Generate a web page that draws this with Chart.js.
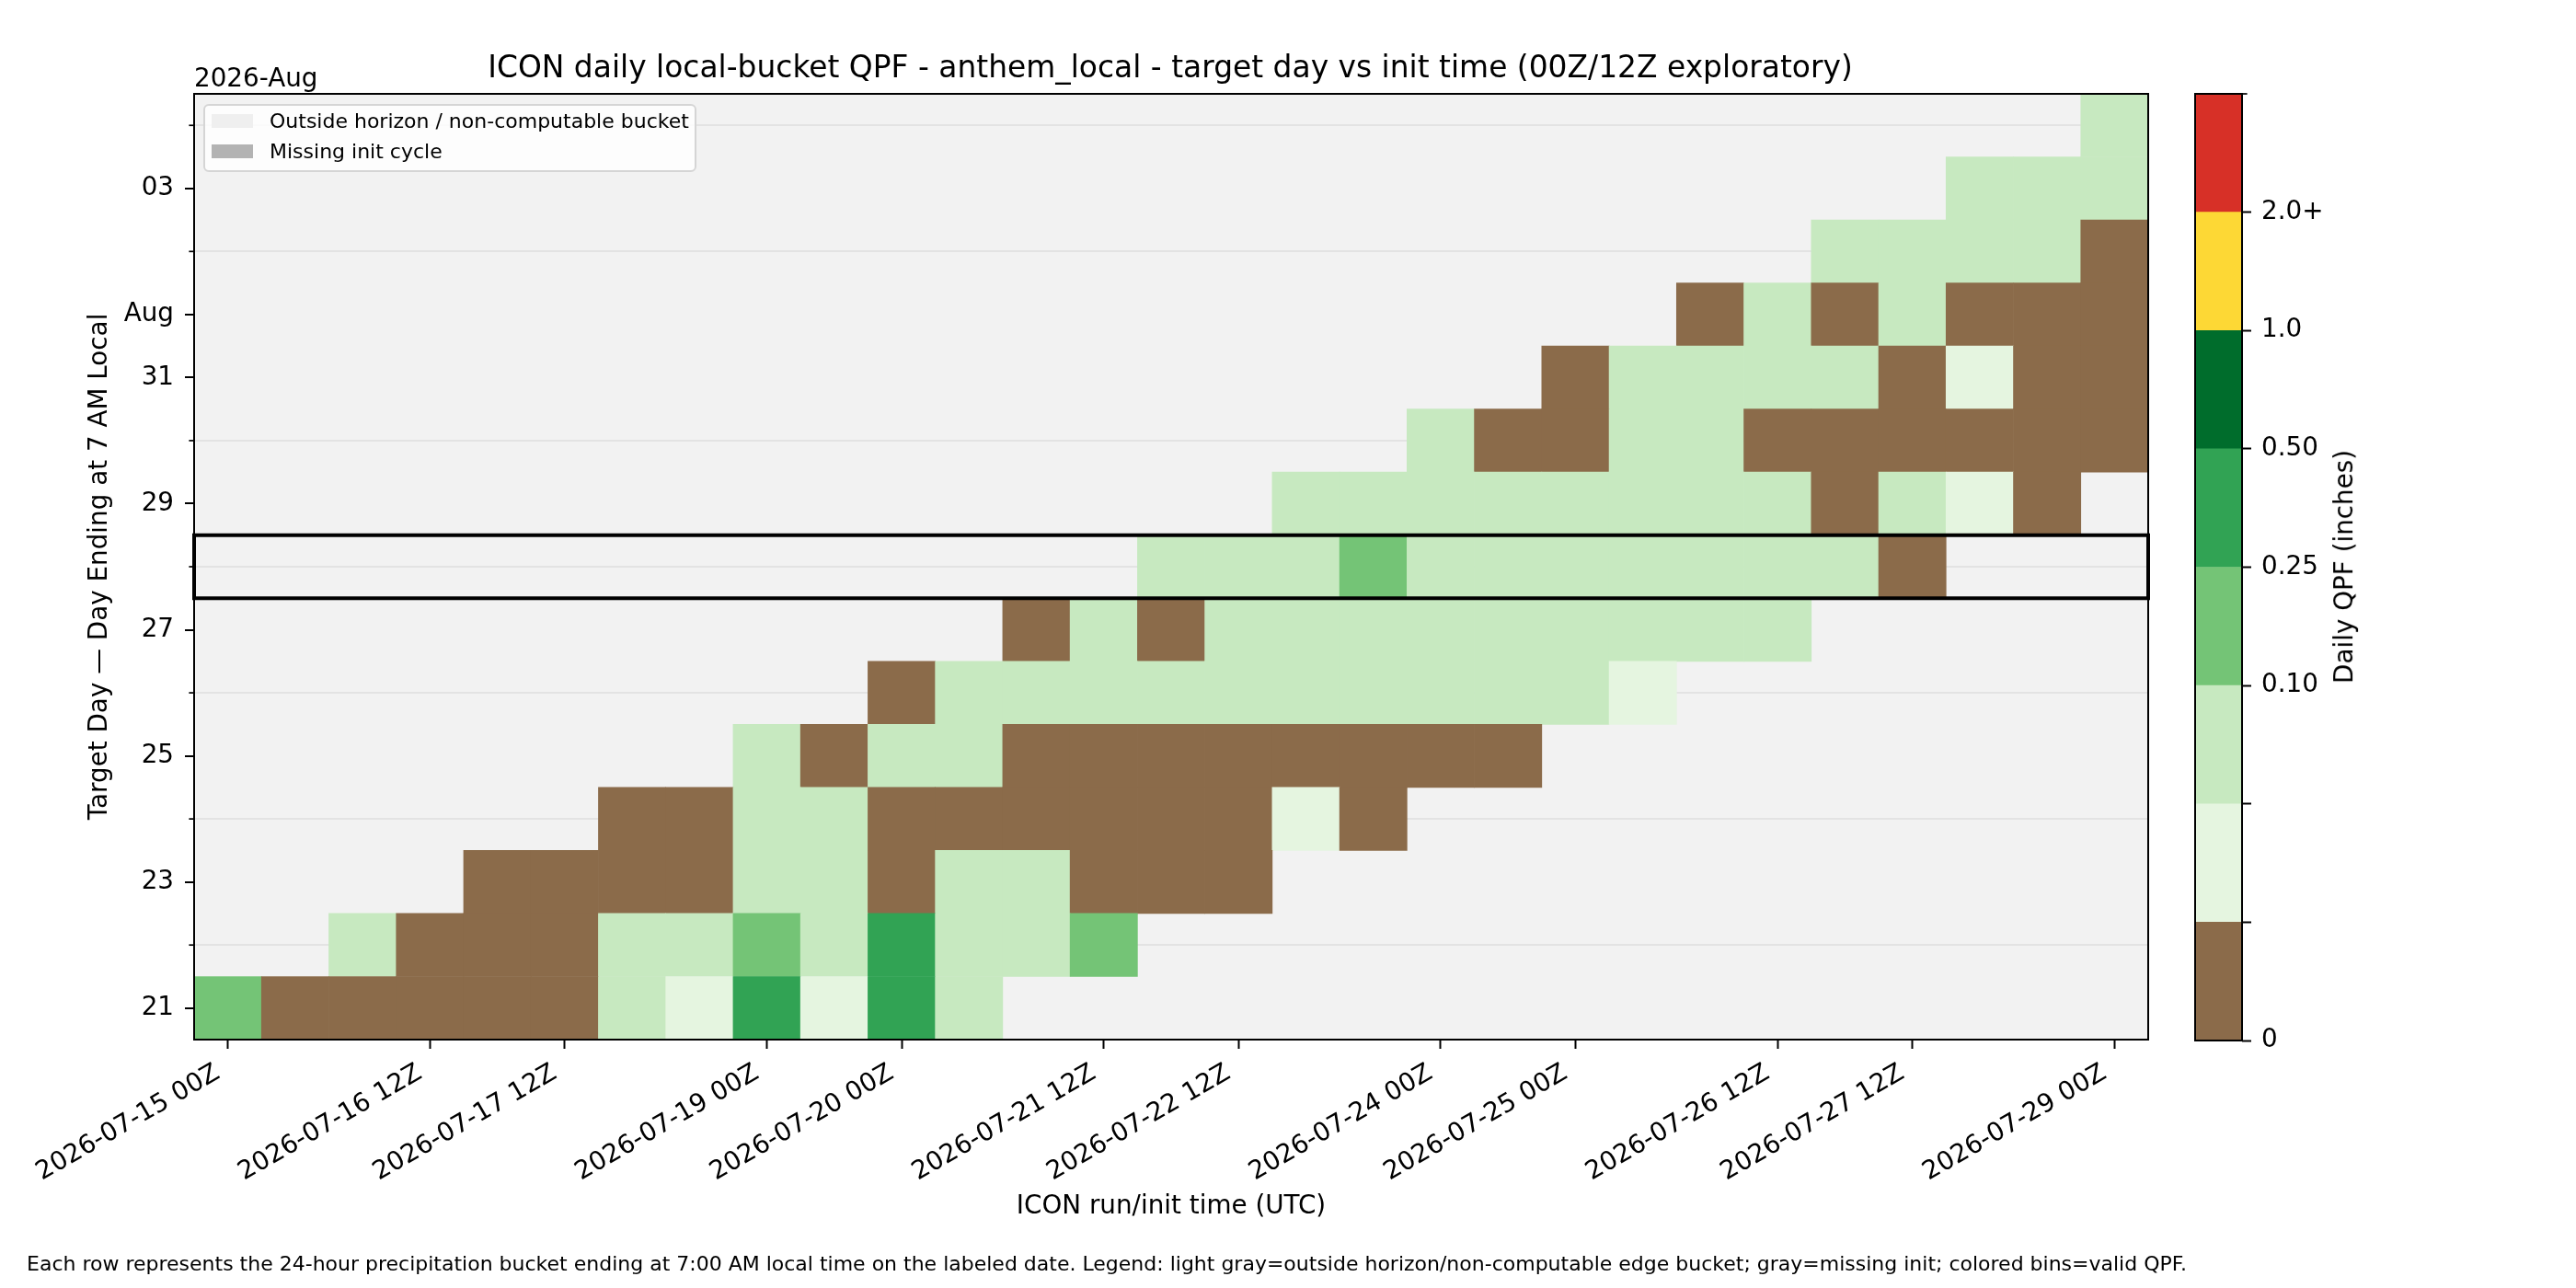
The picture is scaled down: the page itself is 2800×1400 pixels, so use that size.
<!DOCTYPE html>
<html>
<head>
<meta charset="utf-8">
<title>ICON daily local-bucket QPF</title>
<script src="https://cdn.jsdelivr.net/npm/chart.js@4.4.1/dist/chart.umd.min.js"></script>
<style>
  html, body { margin: 0; padding: 0; background: #fff; }
  body { position: relative; width: 2800px; height: 1400px; overflow: hidden; font-family: "DejaVu Sans", sans-serif; color: #000; }
  canvas { position: absolute; top: 0; }
  .lbl { position: absolute; white-space: nowrap; line-height: 1; }
  #legend { position: absolute; left: 221px; top: 113px; width: 532px; height: 70px; background: rgba(255,255,255,0.8); border: 2px solid #d5d5d5; border-radius: 6px; }
  .sw { position: absolute; left: 7px; width: 45px; height: 15px; }
  .legtxt { position: absolute; left: 70px; font-size: 22px; line-height: 1; white-space: nowrap; }
</style>
</head>
<body>
<canvas id="heat" width="2800" height="1400" style="left:0"></canvas>
<canvas id="cbar" width="400" height="1400" style="left:2300px"></canvas>

<div class="lbl" style="left:1272px; top:57px; font-size:32.9px; transform:translateX(-50%)">ICON daily local-bucket QPF - anthem_local - target day vs init time (00Z/12Z exploratory)</div>
<div class="lbl" style="left:211px; top:71px; font-size:27.8px">2026-Aug</div>
<div class="lbl" style="left:2548px; top:616px; font-size:27.8px; transform:translate(-50%,-50%) rotate(-90deg)">Daily QPF (inches)</div>
<div class="lbl" style="left:29px; top:1363px; font-size:22px">Each row represents the 24-hour precipitation bucket ending at 7:00 AM local time on the labeled date. Legend: light gray=outside horizon/non-computable edge bucket; gray=missing init; colored bins=valid QPF.</div>

<div id="legend">
  <div class="sw" style="top:9px; background:#efefef"></div>
  <div class="legtxt" style="top:6px">Outside horizon / non-computable bucket</div>
  <div class="sw" style="top:42px; background:#b3b3b3"></div>
  <div class="legtxt" style="top:39px">Missing init cycle</div>
</div>

<script>
// ICON runs (x) and target days (y)
const initTimes = [
  '2026-07-15 00Z', '2026-07-15 12Z', '2026-07-16 00Z', '2026-07-16 12Z', '2026-07-17 00Z',
  '2026-07-17 12Z', '2026-07-18 00Z', '2026-07-18 12Z', '2026-07-19 00Z', '2026-07-19 12Z',
  '2026-07-20 00Z', '2026-07-20 12Z', '2026-07-21 00Z', '2026-07-21 12Z', '2026-07-22 00Z',
  '2026-07-22 12Z', '2026-07-23 00Z', '2026-07-23 12Z', '2026-07-24 00Z', '2026-07-24 12Z',
  '2026-07-25 00Z', '2026-07-25 12Z', '2026-07-26 00Z', '2026-07-26 12Z', '2026-07-27 00Z',
  '2026-07-27 12Z', '2026-07-28 00Z', '2026-07-28 12Z', '2026-07-29 00Z'
];
const shownInitTicks = [
  '2026-07-15 00Z', '2026-07-16 12Z', '2026-07-17 12Z', '2026-07-19 00Z', '2026-07-20 00Z',
  '2026-07-21 12Z', '2026-07-22 12Z', '2026-07-24 00Z', '2026-07-25 00Z', '2026-07-26 12Z',
  '2026-07-27 12Z', '2026-07-29 00Z'
];
const targetDays = [
  '2026-07-21', '2026-07-22', '2026-07-23', '2026-07-24', '2026-07-25', '2026-07-26', '2026-07-27',
  '2026-07-28', '2026-07-29', '2026-07-30', '2026-07-31', '2026-08-01', '2026-08-02', '2026-08-03',
  '2026-08-04'
];
// '' = minor tick (no label)
const dayTickLabels = ['21', '', '23', '', '25', '', '27', '', '29', '', '31', 'Aug', '', '03', ''];
const highlightDay = '2026-07-28';

// daily QPF (inches), one row per target day, one column per init; null = outside horizon
const _ = null;
const qpfInches = [
  [0.15,0,0,0,0,0,0.07,0.03,0.35,0.03,0.35,0.07, _,_,_,_,_,_,_,_,_,_, _,_,_,_,_,_,_],
  [_,_,0.07,0,0,0,0.07,0.07,0.15,0.07,0.35,0.07,0.07,0.15, _,_,_,_,_,_,_,_,_,_, _,_,_,_,_],
  [_,_,_,_,0,0,0,0,0.07,0.07,0,0.07,0.07,0,0,0, _,_,_,_,_,_,_,_,_,_, _,_,_],
  [_,_,_,_,_,_, 0,0,0.07,0.07,0,0,0,0,0,0,0.03,0, _,_,_,_,_,_,_,_,_,_, _],
  [_,_,_,_,_,_,_,_, 0.07,0,0.07,0.07,0,0,0,0,0,0,0,0, _,_,_,_,_,_,_,_,_],
  [_,_,_,_,_,_,_,_,_,_, 0,0.07,0.07,0.07,0.07,0.07,0.07,0.07,0.07,0.07,0.07,0.03, _,_,_,_,_,_,_],
  [_,_,_,_,_,_,_,_,_,_, _,_, 0,0.07,0, 0.07,0.07,0.07,0.07,0.07,0.07,0.07,0.07,0.07, _,_,_,_,_],
  [_,_,_,_,_,_,_,_,_,_, _,_,_,_, 0.07,0.07,0.07,0.15, 0.07,0.07,0.07,0.07,0.07,0.07,0.07, 0, _,_,_],
  [_,_,_,_,_,_,_,_,_,_, _,_,_,_,_,_, 0.07,0.07,0.07,0.07,0.07,0.07,0.07,0.07, 0,0.07,0.03,0, _],
  [_,_,_,_,_,_,_,_,_,_, _,_,_,_,_,_,_,_, 0.07,0,0,0.07,0.07,0,0,0,0,0,0],
  [_,_,_,_,_,_,_,_,_,_, _,_,_,_,_,_,_,_,_,_, 0,0.07,0.07,0.07,0.07,0,0.03,0,0],
  [_,_,_,_,_,_,_,_,_,_, _,_,_,_,_,_,_,_,_,_, _,_, 0,0.07,0,0.07,0,0,0],
  [_,_,_,_,_,_,_,_,_,_, _,_,_,_,_,_,_,_,_,_, _,_,_,_, 0.07,0.07,0.07,0.07,0],
  [_,_,_,_,_,_,_,_,_,_, _,_,_,_,_,_,_,_,_,_, _,_,_,_,_,_, 0.07,0.07,0.07],
  [_,_,_,_,_,_,_,_,_,_, _,_,_,_,_,_,_,_,_,_, _,_,_,_,_,_,_,_, 0.07]
];

// colour bins (lower bounds, inches)
const qpfBounds = [0, 0.01, 0.05, 0.10, 0.25, 0.50, 1.0, 2.0];
const binColors = ['#8b6b4a', '#e5f5e0', '#c7e9c0', '#74c476', '#31a354', '#006d2c', '#fdd835', '#d73027'];
const cbarTickLabels = ['0', '', '', '0.10', '0.25', '0.50', '1.0', '2.0+'];
const outsideColor = '#f2f2f2';

const tickFont = { family: "'DejaVu Sans', sans-serif", size: 27.8 };

function colorFor(v) {
  if (v === null) return 'rgba(0,0,0,0)';
  let k = 0;
  qpfBounds.forEach((b, i) => { if (v >= b) k = i; });
  return binColors[k];
}

const heatFrame = {
  id: 'heatFrame',
  beforeDraw(chart) {
    const { ctx, chartArea: a } = chart;
    ctx.save();
    ctx.fillStyle = outsideColor;
    ctx.fillRect(a.left, a.top, a.width, a.height);
    ctx.restore();
  },
  afterDatasetsDraw(chart) {
    const { ctx, chartArea: a, scales: { y } } = chart;
    ctx.save();
    ctx.strokeStyle = '#000';
    // minor day ticks
    ctx.lineWidth = 1.7;
    dayTickLabels.forEach((lab, r) => {
      if (lab !== '') return;
      const py = y.getPixelForValue(r);
      ctx.beginPath();
      ctx.moveTo(a.left - 5.6, py);
      ctx.lineTo(a.left, py);
      ctx.stroke();
    });
    // highlighted target day
    const hr = targetDays.indexOf(highlightDay);
    const top = y.getPixelForValue(hr + 0.5);
    const bot = y.getPixelForValue(hr - 0.5);
    ctx.lineWidth = 4;
    ctx.strokeRect(a.left, top, a.width, bot - top);
    // axes frame
    ctx.lineWidth = 2;
    ctx.strokeRect(a.left, a.top, a.width, a.height);
    ctx.restore();
  }
};

new Chart(document.getElementById('heat'), {
  type: 'bar',
  data: {
    labels: initTimes,
    datasets: targetDays.map((day, r) => ({
      label: day,
      data: qpfInches[r].map(v => (v === null ? null : [r - 0.5, r + 0.5])),
      backgroundColor: qpfInches[r].map(colorFor),
      borderWidth: 0,
      grouped: false,
      barPercentage: 1,
      categoryPercentage: 1
    }))
  },
  options: {
    responsive: false,
    animation: false,
    events: [],
    layout: { padding: { left: 76, top: 102, right: 465, bottom: 50 } },
    plugins: { legend: { display: false }, tooltip: { enabled: false }, title: { display: false } },
    scales: {
      x: {
        type: 'category',
        offset: true,
        border: { display: false },
        grid: {
          offset: false,
          drawOnChartArea: false,
          tickLength: 10,
          tickWidth: 2,
          tickColor: c => (c.tick && c.tick.label ? '#000' : 'rgba(0,0,0,0)')
        },
        ticks: {
          autoSkip: false,
          maxRotation: 30,
          minRotation: 30,
          padding: 10,
          labelOffset: -11,
          color: '#000',
          font: tickFont,
          callback: (v, i) => (shownInitTicks.includes(initTimes[i]) ? initTimes[i] : null)
        },
        title: { display: true, text: 'ICON run/init time (UTC)', color: '#000', font: tickFont, padding: { top: 0, bottom: 22 } },
        afterFit: s => { s.height = 220; }
      },
      y: {
        type: 'linear',
        min: -0.5,
        max: targetDays.length - 0.5,
        afterBuildTicks: s => { s.ticks = targetDays.map((d, r) => ({ value: r })); },
        border: { display: false },
        grid: {
          lineWidth: 2,
          color: c => (dayTickLabels[c.index] === '' ? '#e3e3e3' : 'rgba(0,0,0,0)'),
          tickLength: 10,
          tickWidth: 2,
          tickColor: c => (dayTickLabels[c.index] === '' ? 'rgba(0,0,0,0)' : '#000')
        },
        ticks: {
          autoSkip: false,
          padding: 12,
          color: '#000',
          font: tickFont,
          callback: (v, i) => dayTickLabels[i]
        },
        title: { display: true, text: 'Target Day \u2014 Day Ending at 7 AM Local', color: '#000', font: tickFont, padding: { top: 16, bottom: 0 } },
        afterFit: s => { s.width = 135; }
      }
    }
  },
  plugins: [heatFrame]
});

// colour bar
const cbarFrame = {
  id: 'cbarFrame',
  afterDatasetsDraw(chart) {
    const { ctx, chartArea: a, scales: { y } } = chart;
    ctx.save();
    ctx.strokeStyle = '#000';
    ctx.lineWidth = 1.7;
    const pt = y.getPixelForValue(binColors.length);
    ctx.beginPath();
    ctx.moveTo(a.right, pt);
    ctx.lineTo(a.right + 5.6, pt);
    ctx.stroke();
    ctx.lineWidth = 2;
    ctx.strokeRect(a.left, a.top, a.width, a.height);
    ctx.restore();
  }
};

new Chart(document.getElementById('cbar'), {
  type: 'bar',
  data: {
    labels: [''],
    datasets: binColors.map((c, k) => ({
      label: String(qpfBounds[k]),
      data: [[k, k + 1]],
      backgroundColor: c,
      borderWidth: 0,
      grouped: false,
      barPercentage: 1,
      categoryPercentage: 1
    }))
  },
  options: {
    responsive: false,
    animation: false,
    events: [],
    layout: { padding: { left: 86, top: 102, right: 0, bottom: 269 } },
    plugins: { legend: { display: false }, tooltip: { enabled: false } },
    scales: {
      x: { display: false },
      y: {
        position: 'right',
        min: 0,
        max: binColors.length,
        afterBuildTicks: s => { s.ticks = cbarTickLabels.map((l, k) => ({ value: k })); },
        border: { display: false },
        grid: { drawOnChartArea: false, tickLength: 10, tickWidth: 2, tickColor: '#000' },
        ticks: { autoSkip: false, padding: 11, color: '#000', font: tickFont, callback: (v, i) => cbarTickLabels[i] },
        afterFit: s => { s.width = 263; }
      }
    }
  },
  plugins: [cbarFrame]
});
</script>
</body>
</html>
